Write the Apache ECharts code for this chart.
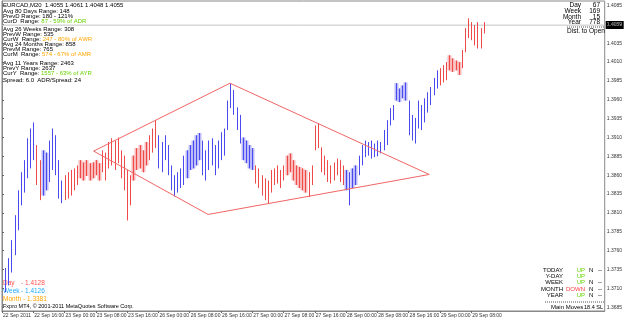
<!DOCTYPE html>
<html><head><meta charset="utf-8">
<script src="https://cdn.jsdelivr.net/npm/echarts@6/dist/echarts.min.js"></script>
<style>html,body{margin:0;padding:0;background:#fff}#c{width:625px;height:319px}</style>
</head><body><div id="c"></div>
<script>
// ---- data (bar slots: 10 per 8-hour label) ----
const barHigh = [
1.3737,1.3750,1.3774,1.3807,1.3840,1.3864,1.3880,1.3909,1.3922,1.3930,
1.3900,1.3880,1.3893,1.3890,1.3906,1.3922,1.3913,1.3880,1.3853,1.3860,
1.3864,1.3867,1.3869,1.3873,1.3880,1.3877,1.3880,1.3876,1.3877,1.3880,
1.3876,1.3893,1.3890,1.3904,1.3909,1.3906,1.3910,1.3893,1.3886,1.3867,
1.3860,1.3886,1.3896,1.3900,1.3893,1.3904,1.3913,1.3922,1.3933,1.3913,
1.3904,1.3913,1.3900,1.3873,1.3860,1.3864,1.3869,1.3886,1.3893,1.3900,
1.3906,1.3913,1.3916,1.3906,1.3893,1.3906,1.3909,1.3900,1.3906,1.3917,
1.3922,1.3959,1.3982,1.3973,1.3950,1.3940,1.3910,1.3906,1.3900,1.3896,
1.3873,1.3869,1.3860,1.3856,1.3853,1.3867,1.3869,1.3873,1.3867,1.3873,
1.3886,1.3889,1.3880,1.3873,1.3871,1.3869,1.3867,1.3864,1.3873,1.3926,
1.3929,1.3897,1.3886,1.3880,1.3873,1.3877,1.3882,1.3880,1.3873,1.3867,
1.3864,1.3869,1.3873,1.3886,1.3900,1.3906,1.3904,1.3906,1.3902,1.3906,
1.3904,1.3920,1.3933,1.3949,1.3953,1.3982,1.3975,1.3979,1.3983,1.3959,
1.3940,1.3936,1.3959,1.3953,1.3962,1.3970,1.3977,1.3989,1.3999,1.4002,
1.4006,1.4010,1.4019,1.4015,1.4012,1.4010,1.4026,1.4055,1.4068,1.4063,
1.4059,1.4063,1.4055,1.4063];
const barLow = [
1.3705,1.3714,1.3731,1.3754,1.3787,1.3820,1.3837,1.3856,1.3869,1.3880,
1.3847,1.3827,1.3833,1.3840,1.3851,1.3867,1.3860,1.3829,1.3823,1.3827,
1.3829,1.3833,1.3840,1.3847,1.3856,1.3853,1.3859,1.3853,1.3856,1.3860,
1.3853,1.3864,1.3853,1.3869,1.3873,1.3867,1.3876,1.3856,1.3840,1.3800,
1.3820,1.3853,1.3867,1.3869,1.3864,1.3873,1.3880,1.3890,1.3896,1.3869,
1.3864,1.3880,1.3860,1.3840,1.3832,1.3837,1.3843,1.3847,1.3856,1.3867,
1.3869,1.3873,1.3880,1.3860,1.3853,1.3867,1.3873,1.3860,1.3869,1.3880,
1.3886,1.3920,1.3949,1.3940,1.3920,1.3902,1.3880,1.3876,1.3869,1.3867,
1.3849,1.3843,1.3833,1.3827,1.3823,1.3837,1.3847,1.3849,1.3843,1.3853,
1.3860,1.3864,1.3853,1.3847,1.3843,1.3840,1.3837,1.3831,1.3847,1.3893,
1.3896,1.3864,1.3860,1.3851,1.3849,1.3853,1.3860,1.3851,1.3847,1.3840,
1.3820,1.3843,1.3847,1.3860,1.3873,1.3884,1.3886,1.3882,1.3884,1.3885,
1.3889,1.3893,1.3900,1.3926,1.3933,1.3959,1.3957,1.3962,1.3959,1.3913,
1.3906,1.3902,1.3922,1.3920,1.3930,1.3943,1.3953,1.3966,1.3975,1.3979,
1.3983,1.3986,1.3999,1.3997,1.3999,1.3993,1.4002,1.4023,1.4042,1.4039,
1.4032,1.4028,1.4028,1.4048];
// b = blue, r = red, l = shaded blue, p = shaded red
const barTrend = "bbbbbbbbbb" + "rr" + "ll" + "bbbbb" + "rrrrr" + "ppppppp" + "rrrrrrrrrr" +
  "ppppp" + "rrr" + "bbbbbbbbb" + "lllll" + "bbbbbbbbbbbbb" + "llll" + "rrrrrrrrrr" +
  "ppppppp" + "rrrrrrrrrrrr" + "l" + "b" + "ll" + "bbbbbbbbbbbb" + "llll" + "bbbbbbbbbb" +
  "rrr" + "pppp" + "rrrrrrrr";
const timeLabels = ["22 Sep 2011","22 Sep 16:00","23 Sep 00:00","23 Sep 08:00","23 Sep 16:00",
  "26 Sep 00:00","26 Sep 08:00","26 Sep 16:00","27 Sep 00:00","27 Sep 08:00","27 Sep 16:00",
  "28 Sep 00:00","28 Sep 08:00","28 Sep 16:00","29 Sep 00:00","29 Sep 08:00"];
const labelPositions = [0,10,20,30,40,50,60,70,80,90,100,110,120,130,140,150];
const priceTicks = [1.3685,1.3710,1.3735,1.3760,1.3785,1.3810,1.3835,1.3860,1.3885,1.3910,
  1.3935,1.3960,1.3985,1.4010,1.4035,1.4060,1.4085];
const patternPoints = [[29.3,1.3892],[72.9,1.3982],[136.6,1.3861],[65.9,1.3808],[29.3,1.3892]];
const bidPrice = 1.4059;

const infoLines = [
  ["EURCAD,M20  1.4055 1.4061 1.4048 1.4055","",""],
  ["Avg 80 Days Range: 148","",""],
  ["PrevD Range: 180 - 121%","",""],
  ["CurD  Range: ","87 - 59% of ADR","g"],
  ["Avg 26 Weeks Range: 308","",""],
  ["PrevW Range: 535","",""],
  ["CurW  Range: ","247 - 80% of AWR","o"],
  ["Avg 24 Months Range: 858","",""],
  ["PrevM Range: 765","",""],
  ["CurM  Range: ","574 - 67% of AMR","o"],
  ["Avg 11 Years Range: 2463","",""],
  ["PrevY Range: 2637","",""],
  ["CurY  Range: ","1557 - 63% of AYR","g"],
  ["Spread: 6.0  ADR/Spread: 24","",""]
];
const infoY = [5,11,16,21,29,34,39,44.5,49.5,54.5,63,68,73,80];
const distNames = ["Day","Week","Month","Year"];
const distValues = ["67","169","15","778"];
const moveNames = ["TODAY","Y-DAY","WEEK","MONTH","YEAR"];
const moveDir = ["UP","UP","UP","DOWN","UP"];
const moveN = ["N","","N","N","N"];
const moveDash = ["--","","--","--","--"];
const levelLines = [["Day","- 1.4128","#ff5050"],["Week","- 1.4126","#22aaff"],["Month","- 1.3381","#ffa500"]];

const codeOf = {b:1, r:0, l:3, p:2};
const bars = barHigh.map((h, k) => [k + 1, h, barLow[k], codeOf[barTrend[k]]]);
const X_MAX = 192.7;

const FONT = 'Arial, "Liberation Sans", sans-serif';
const GREEN = '#66d400', ORANGE = '#ffa500';

const chart = echarts.init(document.getElementById('c'), null, {renderer:'canvas'});
const graphics = [];
infoLines.forEach((ln, k) => {
  graphics.push({type:'text', x:3, y:infoY[k], silent:true,
    style:{text:'{a|' + ln[0] + '}' + (ln[1] ? '{' + ln[2] + '|' + ln[1] + '}' : ''),
      font:'6px ' + FONT, verticalAlign:'middle',
      rich:{a:{fill:'#000', fontSize:6, fontFamily:FONT}, g:{fill:GREEN, fontSize:6, fontFamily:FONT}, o:{fill:ORANGE, fontSize:6, fontFamily:FONT}}}});
});
distNames.forEach((n, k) => {
  const y = [5,11.5,17,22.5][k];
  graphics.push({type:'text', x:581, y:y, silent:true, style:{text:n, font:'6.5px ' + FONT, fill:'#000', align:'right', verticalAlign:'middle'}});
  graphics.push({type:'text', x:600, y:y, silent:true, style:{text:distValues[k], font:'6.5px ' + FONT, fill:'#000', align:'right', verticalAlign:'middle'}});
});
graphics.push({type:'line', silent:true, shape:{x1:567, y1:27, x2:604, y2:27}, style:{stroke:'#555', lineWidth:1, lineDash:[1,1]}});
graphics.push({type:'text', x:567, y:31.5, silent:true, style:{text:'Dist. to Open', font:'6.5px ' + FONT, fill:'#000', verticalAlign:'middle'}});
moveNames.forEach((n, k) => {
  const y = 270 + k * 6.4;
  graphics.push({type:'text', x:563, y:y, silent:true, style:{text:n, font:'6px ' + FONT, fill:'#000', align:'right', verticalAlign:'middle'}});
  graphics.push({type:'text', x:585, y:y, silent:true, style:{text:moveDir[k], font:'6px ' + FONT, fill:moveDir[k]==='UP'?GREEN:'#ff4040', align:'right', verticalAlign:'middle'}});
  if (moveN[k]) graphics.push({type:'text', x:589, y:y, silent:true, style:{text:moveN[k], font:'6px ' + FONT, fill:'#000', verticalAlign:'middle'}});
  if (moveDash[k]) graphics.push({type:'text', x:598, y:y, silent:true, style:{text:moveDash[k], font:'6px ' + FONT, fill:'#000', verticalAlign:'middle'}});
});
graphics.push({type:'line', silent:true, shape:{x1:545, y1:302, x2:605, y2:302}, style:{stroke:'#555', lineWidth:1, lineDash:[1,1]}});
graphics.push({type:'text', x:551, y:307, silent:true, style:{text:'Main Moves', font:'6px ' + FONT, fill:'#000', verticalAlign:'middle'}});
graphics.push({type:'text', x:603, y:307, silent:true, style:{text:'18.4 SL', font:'5.5px ' + FONT, fill:'#000', align:'right', verticalAlign:'middle'}});
levelLines.forEach((lv, k) => {
  const y = 283 + k * 8;
  graphics.push({type:'text', x:3, y:y, silent:true, style:{text:lv[0], font:'6.5px ' + FONT, fill:lv[2], verticalAlign:'middle'}});
  graphics.push({type:'text', x:k===2?23:21, y:y, silent:true, style:{text:lv[1], font:'6.5px ' + FONT, fill:lv[2], verticalAlign:'middle'}});
});
graphics.push({type:'text', x:3, y:306, silent:true, style:{text:'Fxpro MT4, \u00a9 2001-2011 MetaQuotes Software Corp.', font:'5.5px ' + FONT, fill:'#000', verticalAlign:'middle'}});

chart.setOption({
  animation:false,
  backgroundColor:'#ffffff',
  grid:{left:1, right:19, top:1, bottom:8, show:true, borderColor:'#888', borderWidth:1, backgroundColor:'#fff'},
  xAxis:{type:'value', min:0, max:X_MAX,
    axisLine:{show:true, lineStyle:{color:'#888'}},
    axisTick:{show:true, customValues:labelPositions, length:2, inside:false, lineStyle:{color:'#666'}},
    axisLabel:{customValues:labelPositions, formatter:v => timeLabels[Math.round(v/10)] || '', align:'left', fontSize:5, color:'#333', margin:2, fontFamily:FONT, padding:[0,0,0,1], showMinLabel:true, showMaxLabel:true},
    splitLine:{show:false}},
  yAxis:{type:'value', position:'right', min:1.3680, max:1.4091,
    axisLine:{show:true, lineStyle:{color:'#888'}},
    axisTick:{show:true, customValues:priceTicks, length:2, lineStyle:{color:'#666'}},
    axisLabel:{customValues:priceTicks, formatter:v => v.toFixed(4), fontSize:5, color:'#333', margin:2, fontFamily:FONT},
    splitLine:{show:false}},
  series:[
    {type:'line', data:[[0, bidPrice],[X_MAX, bidPrice]], symbol:'none', silent:true, z:1,
      lineStyle:{color:'#c4c4c4', width:1}},
    {type:'custom', data:bars, clip:true, silent:true, z:2,
      renderItem:(params, api) => {
        const x = api.value(0);
        const top = api.coord([x, api.value(1)]);
        const bot = api.coord([x, api.value(2)]);
        const t = api.value(3);
        const px = Math.round(top[0]) + 0.5;
        const children = [];
        if (t === 2 || t === 3) {
          children.push({type:'rect', shape:{x:px - 2, y:top[1], width:4, height:bot[1] - top[1]},
            style:{fill: t === 2 ? '#f9b9b9' : '#bcbcf9'}});
        }
        children.push({type:'line', shape:{x1:px, y1:top[1], x2:px, y2:bot[1]},
          style:{stroke:(t === 0 || t === 2) ? '#ee4a4a' : '#4a4aee', lineWidth:1}});
        return {type:'group', children};
      }},
    {type:'line', data:patternPoints, symbol:'none', silent:true, z:3,
      lineStyle:{color:'#f06565', width:1}}
  ],
  graphic:graphics
});
// price box on the axis, positioned through the chart's own scale
const bidPx = chart.convertToPixel({gridIndex:0}, [X_MAX, bidPrice]);
graphics.push({type:'group', x:bidPx[0] + 1, y:Math.round(bidPx[1]) - 4, z:100, silent:true, children:[
  {type:'rect', shape:{x:0, y:0, width:18, height:8}, style:{fill:'#000'}},
  {type:'text', x:1, y:4, style:{text:bidPrice.toFixed(4), font:'5px ' + FONT, fill:'#fff', verticalAlign:'middle'}}
]});
chart.setOption({graphic:graphics});
</script></body></html>
